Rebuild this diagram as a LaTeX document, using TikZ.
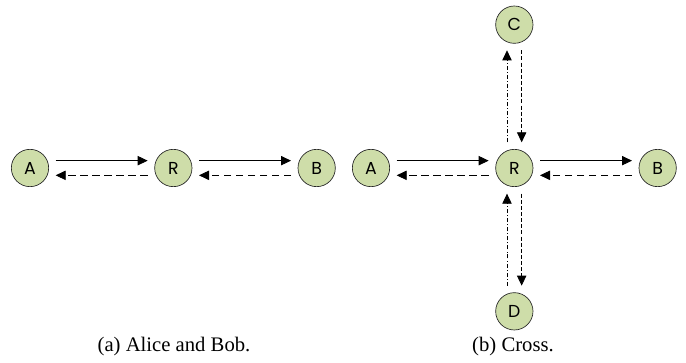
\documentclass[tikz,border=0pt]{standalone}
\usepackage{fontspec}
\setmainfont{Liberation Serif}
\newfontfamily\peerfont{Poppins}
\definecolor{peergreen}{RGB}{206, 221, 169}
\usetikzlibrary{arrows.meta, positioning}

\tikzset{
  peer/.style={circle, draw=black!85, fill=peergreen, line width=0.5pt, minimum size=28pt, inner sep=0pt, font=\peerfont\fontsize{13}{15}\selectfont},
  msg/.style={-{Triangle[length=7.5pt, width=7pt]}, line width=0.6pt, shorten <=5pt, shorten >=5pt},
  back/.style={msg, dash pattern=on 5.5pt off 3.5pt},
  down/.style={msg, dash pattern=on 3pt off 1.6pt},
  up/.style={msg, dash pattern=on 3pt off 1.6pt on 0.6pt off 1.6pt},
  subcap/.style={anchor=base, font=\fontsize{15.5}{18}\selectfont}
}

\begin{document}
\begin{tikzpicture}[x=0.75pt, y=-0.75pt, node distance=79pt]
  \useasboundingbox (0,0) rectangle (686,363);

  % (a) Alice and Bob
  \node[peer] (a1) at (30,168) {A};
  \node[peer, right=of a1] (r1) {R};
  \node[peer, right=of r1] (b1) {B};
  \draw[msg] ([yshift=5.5pt]a1.east) -- ([yshift=5.5pt]r1.west);
  \draw[msg] ([yshift=5.5pt]r1.east) -- ([yshift=5.5pt]b1.west);
  \draw[back] ([yshift=-5.5pt]r1.west) -- ([yshift=-5.5pt]a1.east);
  \draw[back] ([yshift=-5.5pt]b1.west) -- ([yshift=-5.5pt]r1.east);
  \node[subcap] (capa) at (174,352) {(a) Alice and Bob.};

  % (b) Cross
  \node[peer] (a2) at (371,168) {A};
  \node[peer, right=of a2] (r2) {R};
  \node[peer, right=of r2] (b2) {B};
  \node[peer, above=of r2] (c2) {C};
  \node[peer, below=of r2] (d2) {D};
  \draw[msg] ([yshift=5.5pt]a2.east) -- ([yshift=5.5pt]r2.west);
  \draw[msg] ([yshift=5.5pt]r2.east) -- ([yshift=5.5pt]b2.west);
  \draw[back] ([yshift=-5.5pt]r2.west) -- ([yshift=-5.5pt]a2.east);
  \draw[back] ([yshift=-5.5pt]b2.west) -- ([yshift=-5.5pt]r2.east);
  \draw[up] ([xshift=-5.5pt]r2.north) -- ([xshift=-5.5pt]c2.south);
  \draw[down] ([xshift=5.5pt]c2.south) -- ([xshift=5.5pt]r2.north);
  \draw[up] ([xshift=-5.5pt]d2.north) -- ([xshift=-5.5pt]r2.south);
  \draw[down] ([xshift=5.5pt]r2.south) -- ([xshift=5.5pt]d2.north);
  \node[subcap] (capb) at (513,352) {(b) Cross.};
\end{tikzpicture}
\end{document}
